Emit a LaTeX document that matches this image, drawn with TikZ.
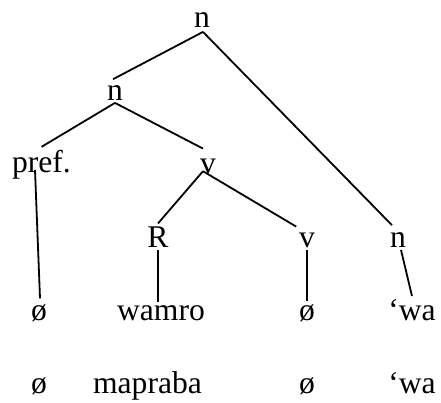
\documentclass[tikz,border=0pt]{standalone}
\usepackage{fontspec}
\setmainfont{Liberation Serif}
\begin{document}
\begin{tikzpicture}[x=0.5pt,y=-0.5pt,line width=0.9pt,
    lab/.style={anchor=base,inner sep=1pt,font=\fontsize{15.8}{19}\selectfont}]
    \useasboundingbox (0,0) rectangle (441,403);

    \node[lab] (ntop) at (202,27) {n};
    \node[lab] (nmid) at (115,100) {n};
    \node[lab] (pref) at (41.5,172) {pref.};
    \node[lab] (vmid) at (208,173) {v};
    \node[lab] (R) at (158,247) {R};
    \node[lab] (vlow) at (307,247) {v};
    \node[lab] (nlow) at (398,247) {n};

    \node[lab] (zeroA) at (39,320) {ø};
    \node[lab] (wamro) at (161,320) {wamro};
    \node[lab] (zeroB) at (307,320) {ø};
    \node[lab] (waA) at (412,320) {‘wa};

    \node[lab] (zeroC) at (39,393) {ø};
    \node[lab] (mapraba) at (147.5,393) {mapraba};
    \node[lab] (zeroD) at (307,393) {ø};
    \node[lab] (waB) at (412,393) {‘wa};

    \draw ([shift={(1,2)}]ntop.south) -- ([shift={(-2,-3)}]nmid.north);
    \draw ([shift={(1,2)}]ntop.south) -- ([shift={(-6,-4)}]nlow.north);
    \draw (nmid.south) -- (pref.north);
    \draw (nmid.south) -- ([shift={(-5,-7)}]vmid.north);
    \draw ([shift={(-6.5,-2)}]pref.base) -- ([shift={(1,-3)}]zeroA.north);
    \draw ([shift={(-5,-5)}]vmid.south) -- (R.north);
    \draw ([shift={(-5,-5)}]vmid.south) -- ([shift={(0,-3)}]vlow.north west);
    \draw (R.south) -- (R.south |- wamro.north);
    \draw (vlow.south) -- (zeroB.north);
    \draw ([shift={(3,0)}]nlow.south) -- (waA.north);
\end{tikzpicture}
\end{document}
